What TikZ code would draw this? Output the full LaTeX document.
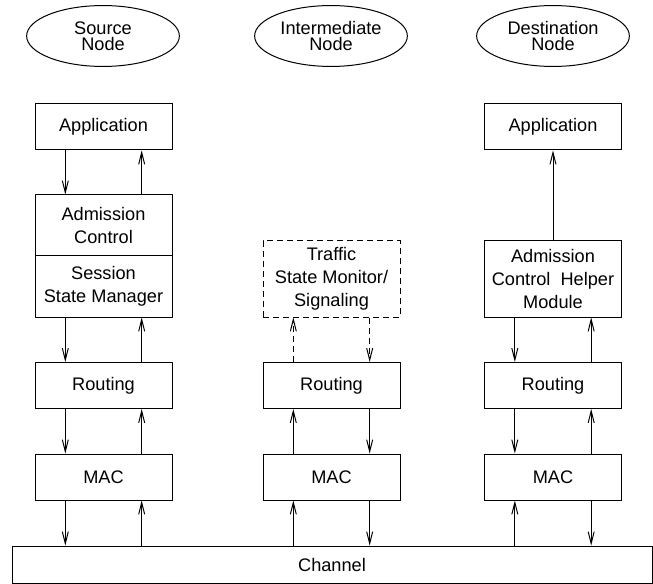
\documentclass[tikz,border=0pt]{standalone}
\usepackage{fontspec}
\setmainfont{Liberation Sans}
\usepackage{tikz}
\usetikzlibrary{calc}
\usetikzlibrary{arrows.meta}
\usetikzlibrary{shapes.geometric}
\tikzset{
    layer/.style={draw, line width=0.55pt, minimum width=75.35pt, minimum height=25.3pt,
                  inner sep=0pt, align=center, font=\fontsize{10}{12.5}\selectfont},
    halfbox/.style={minimum height=33.55pt},
    fullbox/.style={minimum height=41.8pt},
    host/.style={draw, ellipse, line width=0.55pt, minimum width=84pt, minimum height=33.5pt,
                 inner sep=0pt, align=center, font=\fontsize{10}{9}\selectfont},
    flow/.style={line width=0.55pt, -{Straight Barb[length=6.5pt,width=3.3pt]}},
    hint/.style={dash pattern=on 3.3pt off 2.2pt},
}

\begin{document}
\begin{tikzpicture}[x=0.55pt, y=-0.55pt]
            \useasboundingbox (0,0) rectangle (653,584);
            % Source Node
            \node[host]           (srchost) at (103.0,  36.0) {Source\\Node};
            \node[layer]          (srcapp)  at (103.5, 127.0) {Application};
            \node[layer, halfbox] (srcadm)  at (103.5, 225.5) {Admission\\Control};
            \node[layer, halfbox] (srcses)  at (103.5, 286.5) {Session\\State Manager};
            \node[layer]          (srcrout) at (103.5, 385.5) {Routing};
            \node[layer]          (srcmac)  at (103.5, 477.0) {MAC};
            % Intermediate Node
            \node[host]                 (inthost) at (331.0,  36.0) {Intermediate\\Node};
            \node[layer, fullbox, hint] (intsig)  at (331.5, 279.0) {Traffic\\State Monitor/\\Signaling};
            \node[layer]                (introut) at (331.5, 385.5) {Routing};
            \node[layer]                (intmac)  at (331.5, 477.0) {MAC};
            % Destination Node
            \node[host]           (dsthost) at (553.0,  36.0) {Destination\\Node};
            \node[layer]          (dstapp)  at (553.0, 127.0) {Application};
            \node[layer, fullbox] (dsthlp)  at (553.0, 279.0) {Admission\\Control~~Helper\\Module};
            \node[layer]          (dstrout) at (553.0, 385.5) {Routing};
            \node[layer]          (dstmac)  at (553.0, 477.0) {MAC};
            % Channel
            \node[layer, minimum width=352pt, minimum height=20.35pt] (chan) at (332.0, 564.5) {Channel};
            % Source stack
            \draw[flow] ([xshift=-21pt]srcapp.south)  -- ([xshift=-21pt]srcadm.north);
            \draw[flow] ([xshift= 21pt]srcadm.north)  -- ([xshift= 21pt]srcapp.south);
            \draw[flow] ([xshift=-21pt]srcses.south)  -- ([xshift=-21pt]srcrout.north);
            \draw[flow] ([xshift= 21pt]srcrout.north) -- ([xshift= 21pt]srcses.south);
            \draw[flow] ([xshift=-21pt]srcrout.south) -- ([xshift=-21pt]srcmac.north);
            \draw[flow] ([xshift= 21pt]srcmac.north)  -- ([xshift= 21pt]srcrout.south);
            \draw[flow] ([xshift=-21pt]srcmac.south)  -- ([xshift=-21pt]srcmac.south |- chan.north);
            \draw[flow] ([xshift= 21pt]srcmac.south |- chan.north) -- ([xshift= 21pt]srcmac.south);
            % Intermediate stack
            \draw[flow, hint] ([xshift=-21pt]introut.north) -- ([xshift=-21pt]intsig.south);
            \draw[flow, hint] ([xshift= 21pt]intsig.south)  -- ([xshift= 21pt]introut.north);
            \draw[flow] ([xshift=-21pt]intmac.north)  -- ([xshift=-21pt]introut.south);
            \draw[flow] ([xshift= 21pt]introut.south) -- ([xshift= 21pt]intmac.north);
            \draw[flow] ([xshift=-21pt]intmac.south |- chan.north) -- ([xshift=-21pt]intmac.south);
            \draw[flow] ([xshift= 21pt]intmac.south)  -- ([xshift= 21pt]intmac.south |- chan.north);
            % Destination stack
            \draw[flow] (dsthlp.north) -- (dstapp.south);
            \draw[flow] ([xshift=-21pt]dsthlp.south)  -- ([xshift=-21pt]dstrout.north);
            \draw[flow] ([xshift= 21pt]dstrout.north) -- ([xshift= 21pt]dsthlp.south);
            \draw[flow] ([xshift=-21pt]dstrout.south) -- ([xshift=-21pt]dstmac.north);
            \draw[flow] ([xshift= 21pt]dstmac.north)  -- ([xshift= 21pt]dstrout.south);
            \draw[flow] ([xshift=-21pt]dstmac.south |- chan.north) -- ([xshift=-21pt]dstmac.south);
            \draw[flow] ([xshift= 21pt]dstmac.south)  -- ([xshift= 21pt]dstmac.south |- chan.north);
\end{tikzpicture}
\end{document}
